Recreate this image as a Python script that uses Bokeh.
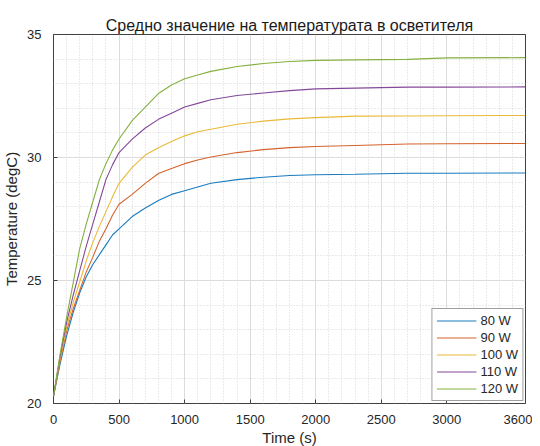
from bokeh.plotting import figure
from bokeh.models import FixedTicker, Legend, LegendItem
from bokeh.embed import file_html
from bokeh.resources import INLINE

time_s = [0, 50, 100, 150, 200, 250, 300, 350, 400, 450, 500, 600, 700, 800, 900,
          1000, 1100, 1200, 1400, 1600, 1800, 2000, 2300, 2700, 3000, 3600]

t80 = [20.3, 21.6, 22.75, 23.7, 24.5, 25.15, 25.65, 26.05, 26.45, 26.85, 27.1, 27.6, 27.95, 28.25, 28.5,
       28.65, 28.8, 28.95, 29.1, 29.2, 29.27, 29.3, 29.32, 29.36, 29.36, 29.37]
t90 = [20.3, 21.7, 22.95, 23.85, 24.6, 25.35, 25.95, 26.6, 27.1, 27.65, 28.1, 28.5, 28.95, 29.35, 29.55,
       29.75, 29.9, 30.02, 30.2, 30.32, 30.4, 30.45, 30.49, 30.55, 30.56, 30.57]
t100 = [20.3, 21.8, 23.1, 24.1, 24.95, 25.8, 26.55, 27.2, 27.8, 28.4, 28.95, 29.6, 30.1, 30.4, 30.65,
        30.88, 31.05, 31.15, 31.35, 31.48, 31.57, 31.62, 31.68, 31.69, 31.7, 31.71]
t110 = [20.3, 21.9, 23.3, 24.4, 25.4, 26.4, 27.3, 28.2, 29.1, 29.7, 30.2, 30.75, 31.2, 31.55, 31.8,
        32.05, 32.2, 32.35, 32.52, 32.62, 32.72, 32.79, 32.82, 32.86, 32.86, 32.87]
t120 = [20.3, 22.0, 23.5, 24.9, 26.3, 27.3, 28.2, 29.1, 29.75, 30.3, 30.75, 31.5, 32.05, 32.6, 32.95,
        33.2, 33.35, 33.5, 33.7, 33.82, 33.9, 33.95, 33.97, 33.99, 34.05, 34.06]

series_labels = ["80 W", "90 W", "100 W", "110 W", "120 W"]
series_values = [t80, t90, t100, t110, t120]
series_colors = ["#1a7cc0", "#d4632c", "#ebb93a", "#84489a", "#84b03e"]

x_ticks = [0, 500, 1000, 1500, 2000, 2500, 3000, 3600]
x_minor = [v for v in range(100, 3600, 100) if v not in x_ticks]
y_ticks = [20, 25, 30, 35]
y_minor = [v for v in range(21, 35) if v not in y_ticks]

FONT = "Liberation Sans"
TXT = "#262626"

p = figure(frame_width=472, frame_height=369, output_backend="svg", toolbar_location=None,
           x_range=(0, 3600), y_range=(20, 35),
           min_border_left=53, min_border_right=7, min_border_top=34, min_border_bottom=40)
p.background_fill_color = "white"
p.border_fill_color = "white"
p.outline_line_color = "#404040"
p.outline_line_width = 1

p.title.text = "Средно значение на температурата в осветителя"
p.title.align = "center"
p.title.text_font = FONT
p.title.text_font_size = "16px"
p.title.text_font_style = "normal"
p.title.text_color = "#1a1a1a"
p.title.offset = 0
p.title.standoff = 2

for ax in p.xaxis:
    ax.ticker = FixedTicker(ticks=x_ticks, minor_ticks=x_minor)
    ax.axis_label = "Time (s)"
for ax in p.yaxis:
    ax.ticker = FixedTicker(ticks=y_ticks, minor_ticks=y_minor)
    ax.axis_label = "Temperature (degC)"

for ax in list(p.xaxis) + list(p.yaxis):
    ax.axis_line_color = None
    ax.major_tick_in = 4
    ax.major_tick_out = 0
    ax.major_tick_line_color = "#404040"
    ax.minor_tick_line_color = None
    ax.major_label_text_font = FONT
    ax.major_label_text_font_size = "13px"
    ax.major_label_text_color = TXT
    ax.axis_label_text_font = FONT
    ax.axis_label_text_font_size = "15px"
    ax.axis_label_text_font_style = "normal"
    ax.axis_label_text_color = TXT
p.xaxis.major_label_standoff = 7
p.xaxis.axis_label_standoff = 2
p.yaxis.major_label_standoff = 8
p.yaxis.axis_label_standoff = 4

p.xgrid.grid_line_color = "#dcdcdc"
p.ygrid.grid_line_color = "#dcdcdc"
p.xgrid.minor_grid_line_color = "#d4d4d4"
p.ygrid.minor_grid_line_color = "#d4d4d4"
p.xgrid.minor_grid_line_dash = "1 2"
p.ygrid.minor_grid_line_dash = "1 2"

items = []
for lab, vals, col in zip(series_labels, series_values, series_colors):
    r = p.line(time_s, vals, line_color=col, line_width=1.1)
    items.append(LegendItem(label=lab, renderers=[r]))

legend = Legend(items=items, location="bottom_right")
legend.label_text_font = FONT
legend.label_text_font_size = "13px"
legend.label_text_color = TXT
legend.border_line_color = "#404040"
legend.border_line_width = 1
legend.background_fill_color = "white"
legend.background_fill_alpha = 1
legend.glyph_width = 40
legend.glyph_height = 15
legend.label_height = 15
legend.label_standoff = 4
legend.spacing = 2
legend.padding = 4
legend.margin = 2
p.add_layout(legend)

open("out.html", "w").write(file_html(p, INLINE))
